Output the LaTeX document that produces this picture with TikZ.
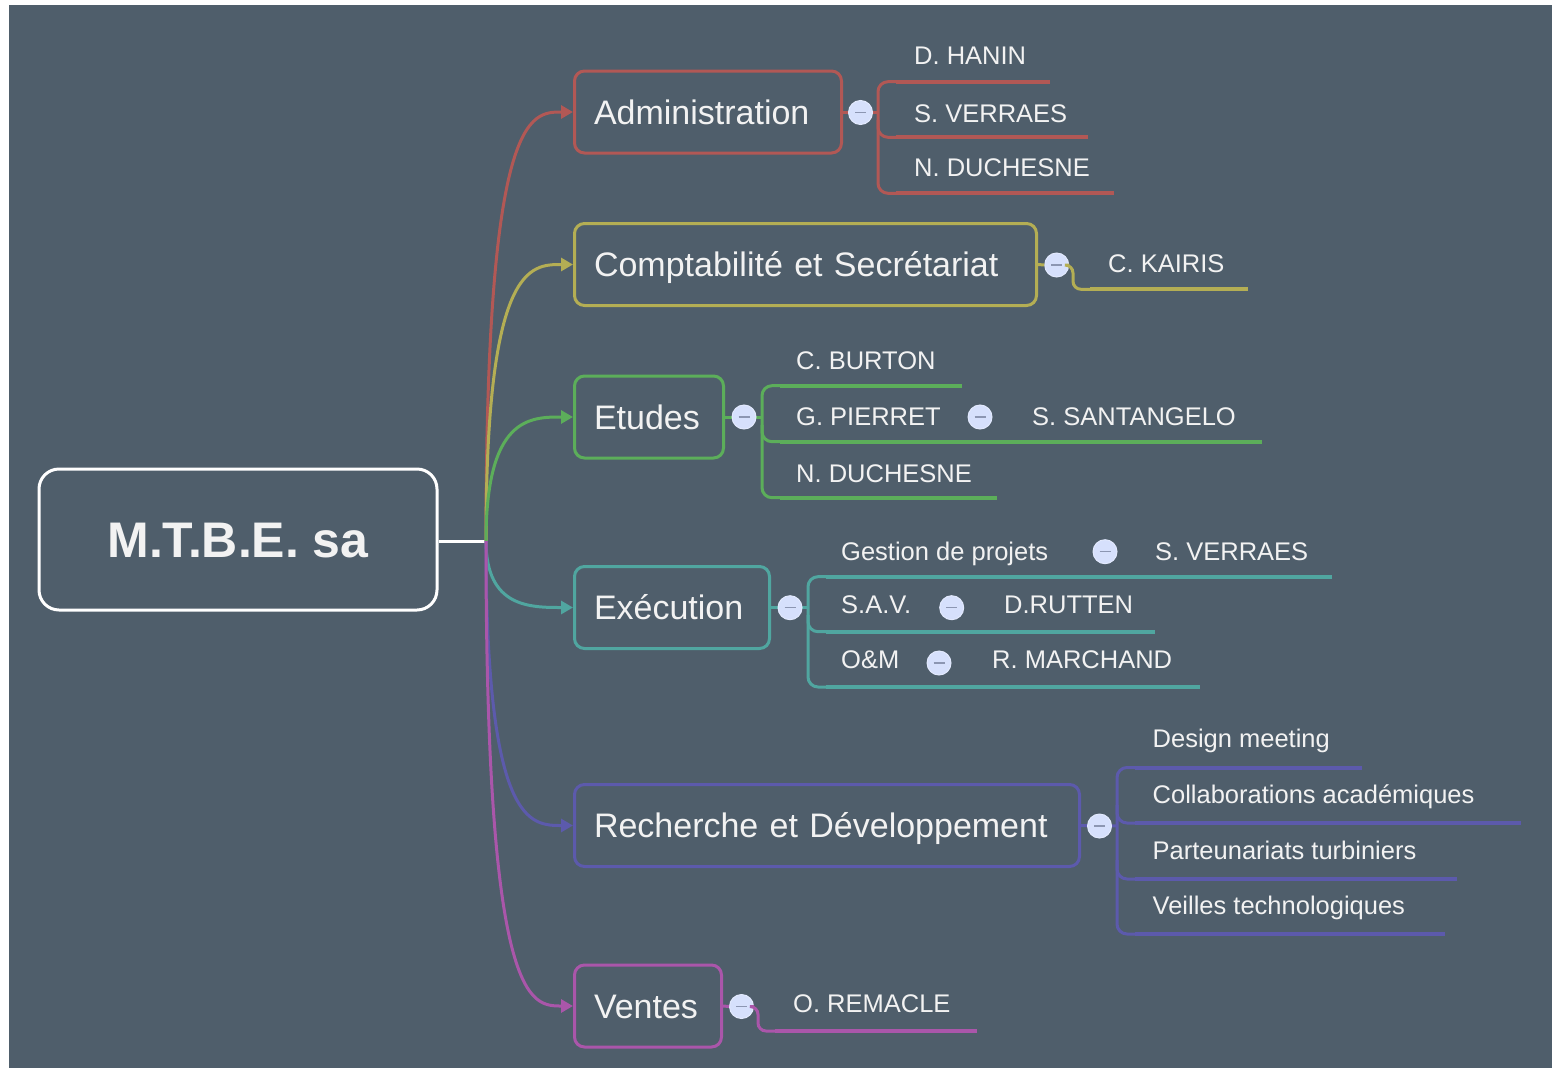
\documentclass[tikz,border=0pt]{standalone}
\usepackage{fontspec}
\setmainfont{Liberation Sans}
\usetikzlibrary{arrows.meta,calc}
\definecolor{bg}{RGB}{79,94,107}
\definecolor{cRed}{RGB}{178,88,85}
\definecolor{cYel}{RGB}{180,174,84}
\definecolor{cGrn}{RGB}{92,174,90}
\definecolor{cTeal}{RGB}{80,166,160}
\definecolor{cPur}{RGB}{92,90,172}
\definecolor{cMag}{RGB}{170,86,170}
\definecolor{txt}{RGB}{242,242,242}
\definecolor{knobfill}{RGB}{214,224,252}
\definecolor{knobline}{RGB}{140,150,178}
\tikzset{
  rootbox/.style={draw=white, line width=3pt, rounded corners=20pt, minimum width=398pt, minimum height=141pt, text=txt, font=\fontsize{50}{58}\bfseries\selectfont, text height=35.8pt, text depth=0pt},
  topicbox/.style={draw, line width=3pt, rounded corners=10pt, minimum height=82pt, inner xsep=19.5pt, inner ysep=0pt, anchor=west, text=txt, align=left, font=\fontsize{34}{40}\selectfont, text height=24.3pt, text depth=0pt},
  leaf/.style={inner sep=0pt, anchor=base west, text=txt, font=\fontsize{25.5}{30}\selectfont},
  knob/.style={circle, draw=knobfill!70!white, fill=knobfill, line width=1pt, minimum size=24pt, inner sep=0pt,
    path picture={\draw[knobline, line width=1.5pt] ([xshift=-5.5pt]path picture bounding box.center) -- ([xshift=5.5pt]path picture bounding box.center);}},
  branch/.style={line width=3pt, -{Triangle[length=12pt,width=13pt]}},
  link/.style={line width=3pt},
  brk/.style={line width=3pt, rounded corners=10pt},
  uline/.style={line width=4pt}
}
\begin{document}
\begin{tikzpicture}[x=1pt,y=-1pt]
\useasboundingbox (0,0) rectangle (1552,1068);
\fill[white] (0,0) rectangle (1552,1068);
\fill[bg] (9,5) rectangle (1552,1068);

% root
\node[rootbox] (root) at (238,539.5) {M.T.B.E. sa};
\coordinate (trunk) at (486,541);
\draw[white, line width=3pt] (root.east |- trunk) -- (trunk);

% topic boxes
\node[topicbox, draw=cRed,  text width=228pt] (adm)  at (573,112)   {Administration};
\node[topicbox, draw=cYel,  text width=423pt] (comp) at (573,264.5) {Comptabilité et Secrétariat};
\node[topicbox, draw=cGrn,  text width=110pt] (etu)  at (573,417)   {Etudes};
\node[topicbox, draw=cTeal, text width=156pt] (exe)  at (573,607.5) {Exécution};
\node[topicbox, draw=cPur,  text width=466pt] (rd)   at (573,825.5) {Recherche et Développement};
\node[topicbox, draw=cMag,  text width=108pt] (ven)  at (573,1006)  {Ventes};

% branches from trunk
\draw[branch, cRed]  (trunk) .. controls (trunk |- adm.west)  and ($(trunk |- adm.west)+(44,0)$)  .. (adm.west);
\draw[branch, cYel]  (trunk) .. controls (trunk |- comp.west) and ($(trunk |- comp.west)+(44,0)$) .. (comp.west);
\draw[branch, cGrn]  (trunk) .. controls (trunk |- etu.west)  and ($(trunk |- etu.west)+(44,0)$)  .. (etu.west);
\draw[branch, cTeal] (trunk) .. controls (trunk |- exe.west)  and ($(trunk |- exe.west)+(44,0)$)  .. (exe.west);
\draw[branch, cPur]  (trunk) .. controls (trunk |- rd.west)   and ($(trunk |- rd.west)+(44,0)$)   .. (rd.west);
\draw[branch, cMag]  (trunk) .. controls (trunk |- ven.west)  and ($(trunk |- ven.west)+(44,0)$)  .. (ven.west);

% ---------- Administration ----------
\coordinate (admb) at (878,112);
\draw[link, cRed] (adm.east) -- (admb);
\draw[brk, cRed] (900,81.7) -- (878,81.7) -- (878,193.3) -- (900,193.3);
\draw[brk, cRed] (878,120) -- (878,137.3) -- (900,137.3);
\node[knob] (admk) at (860.5,112.5) {};
\node[leaf] (hanin)    at (914,64)    {D. HANIN};
\node[leaf] (verraesA) at (914,122.3) {S. VERRAES};
\node[leaf] (duchA)    at (914,176.7) {N. DUCHESNE};
\draw[uline, cRed] (896,81.7) -- (1050,81.7);
\draw[uline, cRed] (896,137.3) -- (1088,137.3);
\draw[uline, cRed] (896,193.3) -- (1114,193.3);

% ---------- Comptabilite ----------
\node[knob] (compk) at (1056.7,265) {};
\draw[link, cYel] (comp.east) -- (compk.west);
\node[leaf] (kairis) at (1108,272.7) {C. KAIRIS};
\draw[brk, cYel, rounded corners=8pt] (compk.east) -- (1073,265) -- (1073,289.3) -- (1095,289.3);
\draw[uline, cYel] (1090,289.3) -- (1248,289.3);

% ---------- Etudes ----------
\coordinate (etub) at (762,417);
\draw[link, cGrn] (etu.east) -- (etub);
\draw[brk, cGrn] (784,385.7) -- (762,385.7) -- (762,497.7) -- (784,497.7);
\draw[brk, cGrn] (762,425) -- (762,441.7) -- (784,441.7);
\node[knob] (etuk) at (744,417) {};
\node[leaf] (burton) at (796,369)   {C. BURTON};
\node[leaf] (pierret) at (796,425)  {G. PIERRET};
\node[leaf] (santa) at (1032,425)   {S. SANTANGELO};
\node[leaf] (duchB) at (796,482.3)  {N. DUCHESNE};
\node[knob] (pierk) at (980,417) {};
\draw[uline, cGrn] (780,385.7) -- (962,385.7);
\draw[uline, cGrn] (780,441.7) -- (1262,441.7);
\draw[uline, cGrn] (780,497.7) -- (997,497.7);

% ---------- Execution ----------
\coordinate (exeb) at (808,607.5);
\draw[link, cTeal] (exe.east) -- (exeb);
\draw[brk, cTeal] (830,576.7) -- (808,576.7) -- (808,687) -- (830,687);
\draw[brk, cTeal] (808,615) -- (808,631.7) -- (830,631.7);
\node[knob] (exek) at (790,607.7) {};
\node[leaf] (gestion) at (841,560.7) {Gestion de projets};
\node[knob] (gestk) at (1105,551.7) {};
\node[leaf] (verraesB) at (1155,560.7) {S. VERRAES};
\node[leaf] (sav) at (841,613.3) {S.A.V.};
\node[knob] (savk) at (951.7,607.7) {};
\node[leaf] (rutten) at (1004,613.3) {D.RUTTEN};
\node[leaf] (om) at (841,668.3) {O\&M};
\node[knob] (omk) at (939,663) {};
\node[leaf] (marchand) at (992,668.3) {R. MARCHAND};
\draw[uline, cTeal] (826,576.7) -- (1332,576.7);
\draw[uline, cTeal] (826,631.7) -- (1155,631.7);
\draw[uline, cTeal] (826,687) -- (1200,687);

% ---------- Recherche ----------
\coordinate (rdb) at (1117,826);
\draw[link, cPur] (rd.east) -- (rdb);
\draw[brk, cPur] (1139,767.5) -- (1117,767.5) -- (1117,934) -- (1139,934);
\draw[brk, cPur] (1117,805) -- (1117,823) -- (1139,823);
\draw[brk, cPur] (1117,860) -- (1117,879) -- (1139,879);
\node[knob] (rdk) at (1099.5,826) {};
\node[leaf] (design) at (1152.5,747.3) {Design meeting};
\node[leaf] (collab) at (1152.5,803.3) {Collaborations académiques};
\node[leaf] (parten) at (1152.5,859.3) {Parteunariats turbiniers};
\node[leaf] (veille) at (1152.5,914.3) {Veilles technologiques};
\draw[uline, cPur] (1135,767.5) -- (1362,767.5);
\draw[uline, cPur] (1135,823) -- (1521,823);
\draw[uline, cPur] (1135,879) -- (1457,879);
\draw[uline, cPur] (1135,934) -- (1445,934);

% ---------- Ventes ----------
\node[knob] (venk) at (741.5,1006.5) {};
\draw[link, cMag] (ven.east) -- (venk.west);
\node[leaf] (remacle) at (793,1012.3) {O. REMACLE};
\draw[brk, cMag, rounded corners=8pt] (venk.east) -- (758,1006.5) -- (758,1031) -- (780,1031);
\draw[uline, cMag] (775,1031) -- (977,1031);
\end{tikzpicture}
\end{document}
